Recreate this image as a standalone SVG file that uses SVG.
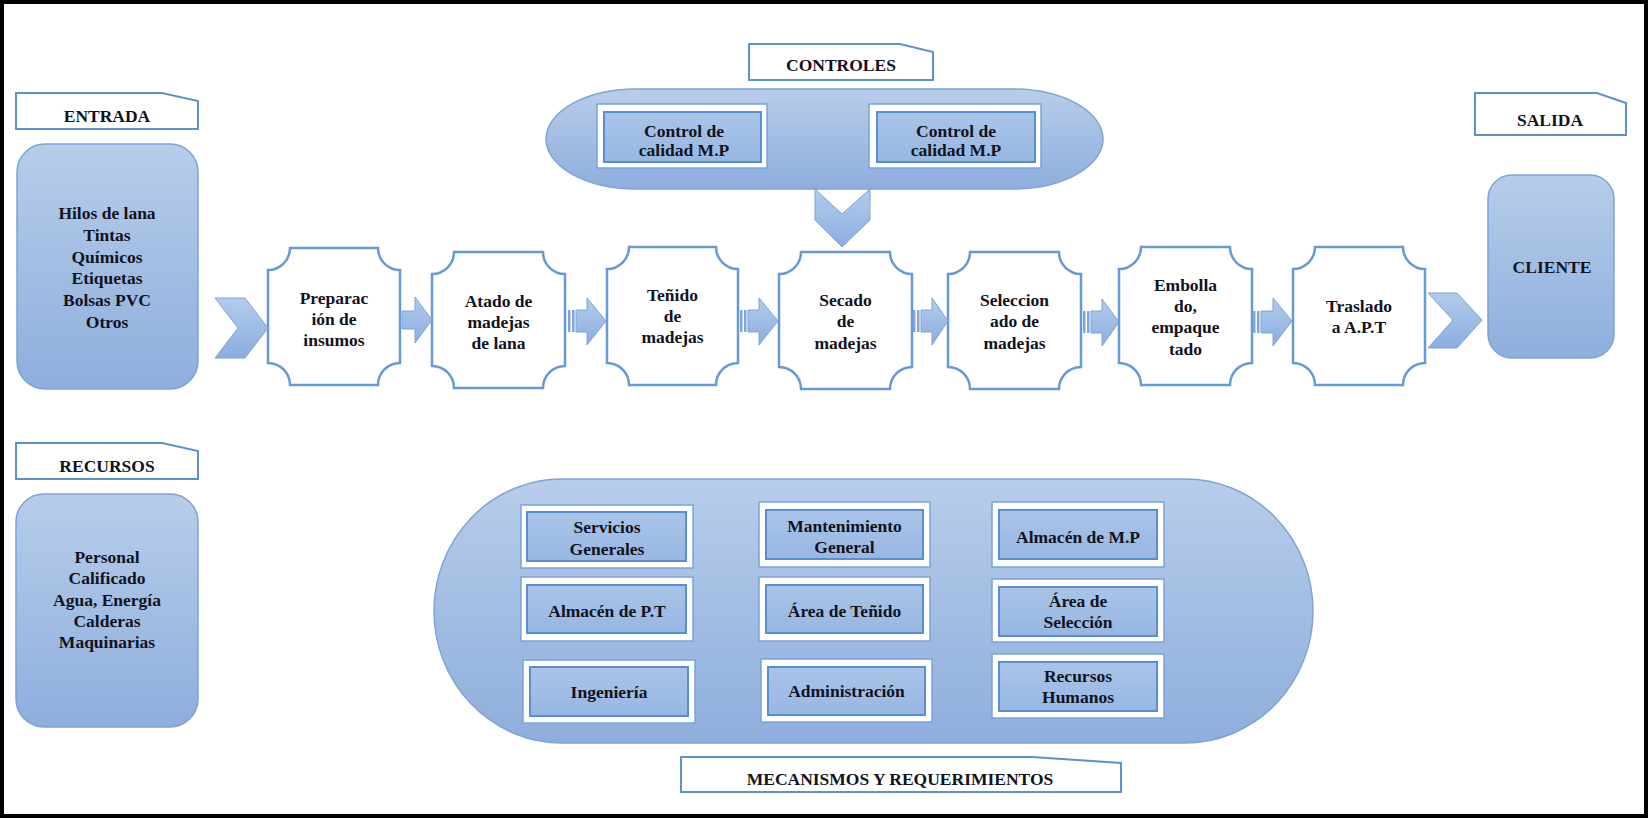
<svg xmlns="http://www.w3.org/2000/svg" width="1648" height="818" viewBox="0 0 1648 818">
<defs>
<linearGradient id="gBox" x1="0" y1="0" x2="0" y2="1">
<stop offset="0" stop-color="#b7cdea"/>
<stop offset="1" stop-color="#8eaedd"/>
</linearGradient>
<linearGradient id="gArrow" x1="0" y1="0" x2="0" y2="1">
<stop offset="0" stop-color="#b3cbec"/>
<stop offset="1" stop-color="#8aaedf"/>
</linearGradient>
<linearGradient id="gInner" x1="0" y1="0" x2="0" y2="1">
<stop offset="0" stop-color="#a9c4e8"/>
<stop offset="1" stop-color="#97b7e2"/>
</linearGradient>
<style>
.t{font-family:"Liberation Serif","Times New Roman",serif;font-weight:bold;font-size:17.5px;fill:#12121c;text-anchor:middle}
.tab{fill:#ffffff;stroke:#5f90cf;stroke-width:2}
.blob{fill:url(#gBox);stroke:#7fa3d5;stroke-width:1.5}
.proc{fill:#ffffff;stroke:#6699d5;stroke-width:2.5}
.arr{fill:url(#gArrow);stroke:#7ea3d6;stroke-width:1}
.stripe{fill:#7fa5da}
.outer{fill:#ffffff;stroke:#7aa3d8;stroke-width:1.5}
.inner{fill:url(#gInner);stroke:#5b8ed0;stroke-width:2}
</style>
</defs>
<rect x="0" y="0" width="1648" height="818" fill="#ffffff"/>
<rect x="2" y="2" width="1644" height="814" fill="none" stroke="#000000" stroke-width="4"/>

<!-- ENTRADA -->
<g id="entrada-tab">
<polygon class="tab" points="16,93 162,93 198,101 198,129 16,129"/>
<text class="t" x="107" y="122">ENTRADA</text>
</g>
<g id="entrada">
<rect class="blob" x="17" y="144" width="181" height="245" rx="28"/>
<text class="t" x="107" y="219">Hilos de lana</text>
<text class="t" x="107" y="240.8">Tintas</text>
<text class="t" x="107" y="262.6">Químicos</text>
<text class="t" x="107" y="284.4">Etiquetas</text>
<text class="t" x="107" y="306.2">Bolsas PVC</text>
<text class="t" x="107" y="328">Otros</text>
</g>

<!-- CONTROLES -->
<g id="controles-tab">
<polygon class="tab" points="749,44 900,44 933,52 933,80 749,80"/>
<text class="t" x="841" y="71">CONTROLES</text>
</g>
<g id="controles">
<rect class="blob" x="546" y="89" width="557" height="100" rx="90" ry="50"/>
<g id="control1">
<rect class="outer" x="597" y="104" width="170" height="64"/>
<rect class="inner" x="604" y="112" width="157" height="50"/>
<text class="t" x="684" y="137">Control de</text>
<text class="t" x="684" y="156">calidad M.P</text>
</g>
<g id="control2">
<rect class="outer" x="869" y="104" width="172" height="64"/>
<rect class="inner" x="877" y="112" width="158" height="50"/>
<text class="t" x="956" y="137">Control de</text>
<text class="t" x="956" y="156">calidad M.P</text>
</g>
</g>

<!-- SALIDA -->
<g id="salida-tab">
<polygon class="tab" points="1475,93 1597,93 1626,103 1626,135 1475,135"/>
<text class="t" x="1550" y="126">SALIDA</text>
</g>
<g id="cliente">
<rect class="blob" x="1488" y="175" width="126" height="183" rx="24"/>
<text class="t" x="1552" y="273">CLIENTE</text>
</g>

<!-- Process nodes -->
<g id="p1">
<path class="proc" d="M290,248 H378 A22,22 0 0 0 400,270 V363 A22,22 0 0 0 378,385 H290 A22,22 0 0 0 268,363 V270 A22,22 0 0 0 290,248 Z"/>
<text class="t" x="334" y="304">Preparac</text>
<text class="t" x="334" y="325">ión de</text>
<text class="t" x="334" y="346">insumos</text>
</g>
<g id="p2">
<path class="proc" d="M454,252 H543 A22,22 0 0 0 565,274 V366 A22,22 0 0 0 543,388 H454 A22,22 0 0 0 432,366 V274 A22,22 0 0 0 454,252 Z"/>
<text class="t" x="498.5" y="307">Atado de</text>
<text class="t" x="498.5" y="328">madejas</text>
<text class="t" x="498.5" y="349">de lana</text>
</g>
<g id="p3">
<path class="proc" d="M629,247 H716 A22,22 0 0 0 738,269 V363 A22,22 0 0 0 716,385 H629 A22,22 0 0 0 607,363 V269 A22,22 0 0 0 629,247 Z"/>
<text class="t" x="672.5" y="301">Teñido</text>
<text class="t" x="672.5" y="322">de</text>
<text class="t" x="672.5" y="343">madejas</text>
</g>
<g id="p4">
<path class="proc" d="M801,252 H890 A22,22 0 0 0 912,274 V367 A22,22 0 0 0 890,389 H801 A22,22 0 0 0 779,367 V274 A22,22 0 0 0 801,252 Z"/>
<text class="t" x="845.5" y="306">Secado</text>
<text class="t" x="845.5" y="327">de</text>
<text class="t" x="845.5" y="349">madejas</text>
</g>
<g id="p5">
<path class="proc" d="M970,252 H1059 A22,22 0 0 0 1081,274 V367 A22,22 0 0 0 1059,389 H970 A22,22 0 0 0 948,367 V274 A22,22 0 0 0 970,252 Z"/>
<text class="t" x="1014.5" y="306">Seleccion</text>
<text class="t" x="1014.5" y="327">ado de</text>
<text class="t" x="1014.5" y="349">madejas</text>
</g>
<g id="p6">
<path class="proc" d="M1141,247 H1230 A22,22 0 0 0 1252,269 V363 A22,22 0 0 0 1230,385 H1141 A22,22 0 0 0 1119,363 V269 A22,22 0 0 0 1141,247 Z"/>
<text class="t" x="1185.5" y="291">Embolla</text>
<text class="t" x="1185.5" y="312">do,</text>
<text class="t" x="1185.5" y="333">empaque</text>
<text class="t" x="1185.5" y="355">tado</text>
</g>
<g id="p7">
<path class="proc" d="M1315,247 H1403 A22,22 0 0 0 1425,269 V363 A22,22 0 0 0 1403,385 H1315 A22,22 0 0 0 1293,363 V269 A22,22 0 0 0 1315,247 Z"/>
<text class="t" x="1359" y="312">Traslado</text>
<text class="t" x="1359" y="333">a A.P.T</text>
</g>

<!-- Connectors -->
<g id="connectors">
<polygon class="arr" points="215,298 245,298 268,328 245,358 215,358 238,328"/>
<polygon class="arr" points="815,189 842,214 870,189 870,220 842,247 815,220"/>
<polygon class="arr" points="1428,293 1457,293 1482,320 1457,348 1428,348 1453,320"/>
<polygon class="arr" points="402,311 415,311 415,297 432,320 415,343 415,329 402,329"/>
<g>
<rect class="stripe" x="568" y="310" width="2.5" height="22"/>
<rect class="stripe" x="572" y="310" width="2.5" height="22"/>
<polygon class="arr" points="576,310 587,310 587,298 606,321 587,345 587,332 576,332"/>
</g>
<g>
<rect class="stripe" x="740" y="310" width="2.5" height="22"/>
<rect class="stripe" x="744" y="310" width="2.5" height="22"/>
<polygon class="arr" points="748,310 759,310 759,298 778,321 759,345 759,332 748,332"/>
</g>
<g>
<rect class="stripe" x="913" y="310" width="2.5" height="22"/>
<rect class="stripe" x="917" y="310" width="2.5" height="22"/>
<polygon class="arr" points="921,310 932,310 932,298 948,321 932,345 932,332 921,332"/>
</g>
<g>
<rect class="stripe" x="1083" y="311" width="2.5" height="22"/>
<rect class="stripe" x="1087" y="311" width="2.5" height="22"/>
<polygon class="arr" points="1091,311 1102,311 1102,299 1119,322 1102,346 1102,333 1091,333"/>
</g>
<g>
<rect class="stripe" x="1253" y="311" width="2.5" height="22"/>
<rect class="stripe" x="1257" y="311" width="2.5" height="22"/>
<polygon class="arr" points="1261,311 1273,311 1273,298 1292,321 1273,346 1273,333 1261,333"/>
</g>
</g>

<!-- RECURSOS -->
<g id="recursos-tab">
<polygon class="tab" points="16,443 162,443 198,451 198,479 16,479"/>
<text class="t" x="107" y="472">RECURSOS</text>
</g>
<g id="recursos">
<rect class="blob" x="16" y="494" width="182" height="233" rx="28"/>
<text class="t" x="107" y="563">Personal</text>
<text class="t" x="107" y="584">Calificado</text>
<text class="t" x="107" y="606">Agua, Energía</text>
<text class="t" x="107" y="627">Calderas</text>
<text class="t" x="107" y="648">Maquinarias</text>
</g>

<!-- MECANISMOS -->
<g id="mecanismos">
<rect class="blob" x="434" y="479" width="879" height="264" rx="128" ry="132"/>
<g id="m1">
<rect class="outer" x="521" y="505" width="172" height="63"/>
<rect class="inner" x="527" y="512" width="159" height="49"/>
<text class="t" x="607" y="533">Servicios</text>
<text class="t" x="607" y="555">Generales</text>
</g>
<g id="m2">
<rect class="outer" x="759" y="502" width="171" height="65"/>
<rect class="inner" x="766" y="510" width="157" height="49"/>
<text class="t" x="844.5" y="532">Mantenimiento</text>
<text class="t" x="844.5" y="553">General</text>
</g>
<g id="m3">
<rect class="outer" x="992" y="502" width="172" height="65"/>
<rect class="inner" x="999" y="510" width="158" height="49"/>
<text class="t" x="1078" y="543">Almacén de M.P</text>
</g>
<g id="m4">
<rect class="outer" x="521" y="577" width="172" height="64"/>
<rect class="inner" x="527" y="585" width="159" height="48"/>
<text class="t" x="607" y="617">Almacén de P.T</text>
</g>
<g id="m5">
<rect class="outer" x="759" y="577" width="171" height="64"/>
<rect class="inner" x="766" y="585" width="157" height="48"/>
<text class="t" x="844.5" y="617">Área de Teñido</text>
</g>
<g id="m6">
<rect class="outer" x="992" y="579" width="172" height="63"/>
<rect class="inner" x="999" y="587" width="158" height="49"/>
<text class="t" x="1078" y="607">Área de</text>
<text class="t" x="1078" y="628">Selección</text>
</g>
<g id="m7">
<rect class="outer" x="523" y="660" width="172" height="63"/>
<rect class="inner" x="530" y="667" width="158" height="49"/>
<text class="t" x="609" y="698">Ingeniería</text>
</g>
<g id="m8">
<rect class="outer" x="761" y="659" width="171" height="63"/>
<rect class="inner" x="768" y="667" width="157" height="48"/>
<text class="t" x="846.5" y="697">Administración</text>
</g>
<g id="m9">
<rect class="outer" x="992" y="654" width="172" height="64"/>
<rect class="inner" x="999" y="662" width="158" height="49"/>
<text class="t" x="1078" y="682">Recursos</text>
<text class="t" x="1078" y="703">Humanos</text>
</g>
</g>
<g id="mecanismos-tab">
<polygon class="tab" points="681,757 1032,757 1121,763 1121,792 681,792"/>
<text class="t" x="900" y="785">MECANISMOS Y REQUERIMIENTOS</text>
</g>
</svg>
